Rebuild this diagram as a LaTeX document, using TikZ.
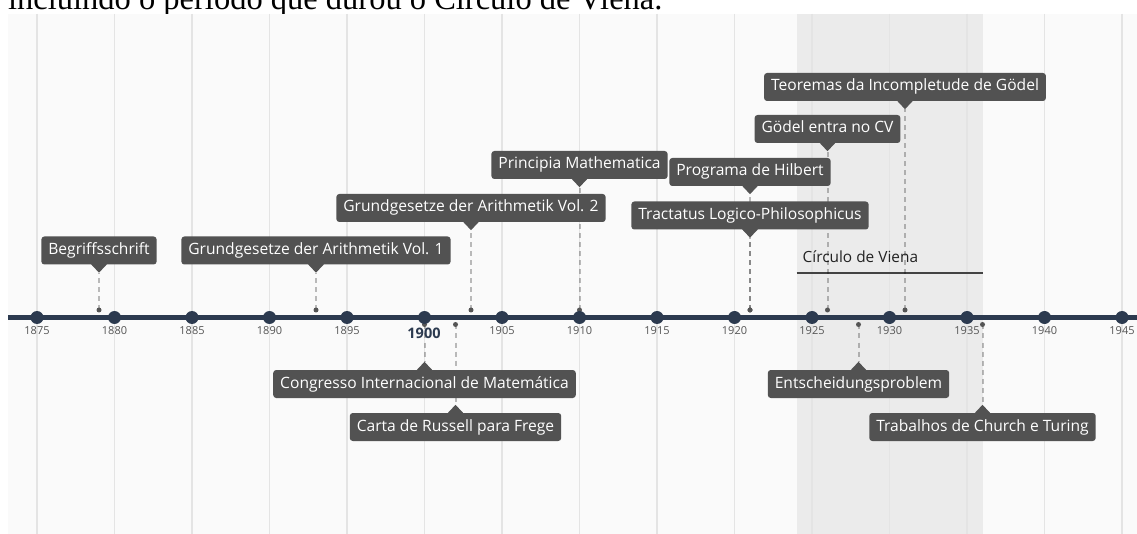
\documentclass[tikz,border=0pt]{standalone}
\usepackage{fontspec}
\setmainfont{Open Sans}
\newfontfamily\introfont{Liberation Serif}
\usetikzlibrary{calc}
\pgfdeclarelayer{bg}
\pgfdeclarelayer{lines}
\pgfsetlayers{bg,lines,main}

\definecolor{panelc}{HTML}{FAFAFA}
\definecolor{gridc}{HTML}{E4E4E4}
\definecolor{vcshade}{HTML}{EBEBEB}
\definecolor{axisc}{HTML}{2C3A4F}
\definecolor{boxc}{HTML}{525252}
\definecolor{tickc}{HTML}{555555}
\definecolor{dotc}{HTML}{555555}
\definecolor{vienc}{HTML}{222222}

\tikzset{
  evbox/.style={fill=boxc, text=white, rounded corners=3, inner xsep=7, inner ysep=0,
    minimum height=28, text height=11.5, text depth=3.5, font=\fontsize{15.6}{18}\selectfont},
  dashline/.style={draw=black, draw opacity=0.26, line width=2, dash pattern=on 5 off 4},
  ticklabel/.style={text=tickc, font=\fontsize{11}{13}\selectfont, inner sep=0},
  boldlabel/.style={text=axisc, font=\bfseries\fontsize{14.5}{17}\selectfont, inner sep=0},
  gridline/.style={draw=gridc, line width=1.3},
  axisline/.style={draw=axisc, line width=5.5},
}

\newcommand\EvUp[4]{%
  \pgfmathsetmacro\ex{37+(#2-1875)*15.5}
  \node[evbox] (#1) at (\ex,#3) {#4};
  \coordinate (#1-tip) at ($(#1.south)+(0,8)$);
  \coordinate (#1-dot) at (\ex,310);
  \fill[boxc] ($(#1.south)+(-8,-0.5)$) -- (#1-tip) -- ($(#1.south)+(8,-0.5)$) -- cycle;
  \begin{pgfonlayer}{lines}
    \draw[dashline] (#1-dot) -- (#1-tip);
    \fill[dotc] (#1-dot) circle (2.5);
  \end{pgfonlayer}
}
\newcommand\EvDn[4]{%
  \pgfmathsetmacro\ex{37+(#2-1875)*15.5}
  \node[evbox] (#1) at (\ex,#3) {#4};
  \coordinate (#1-tip) at ($(#1.north)+(0,-8)$);
  \coordinate (#1-dot) at (\ex,324.5);
  \fill[boxc] ($(#1.north)+(-8,0.5)$) -- (#1-tip) -- ($(#1.north)+(8,0.5)$) -- cycle;
  \begin{pgfonlayer}{lines}
    \draw[dashline] (#1-dot) -- (#1-tip);
    \fill[dotc] (#1-dot) circle (2.5);
  \end{pgfonlayer}
}

\begin{document}
\begin{tikzpicture}[x=1pt,y=-1pt]
\useasboundingbox (0,0) rectangle (1137,534);
\clip (0,0) rectangle (1137,534);
\begin{pgfonlayer}{bg}
  \fill[white] (0,0) rectangle (1137,534);
  \node[anchor=base west, inner sep=0, font=\introfont\fontsize{32.5}{36}\selectfont] (intro) at (8,9.5) {incluindo o período que durou o Círculo de Viena.};
  \fill[panelc] (8,14) rectangle (1137,534);
  \fill[vcshade] (796.5,14) rectangle (982.5,534);
  \foreach \yr in {1875,1880,...,1945} {
    \draw[gridline] ({37+(\yr-1875)*15.5},14) -- ++(0,520);
  }
  \coordinate (vs) at (796.5,273.5);
  \coordinate (ve) at (982.5,273.5);
  \draw[draw=vienc!85!white, line width=2] (vs) -- (ve);
  \node[anchor=base west, inner sep=0, text=vienc, font=\fontsize{15.4}{18}\selectfont] (vien) at (802.5,262.5) {Círculo de Viena};
\end{pgfonlayer}

% axis
\coordinate (axl) at (8,317.5);
\coordinate (axr) at (1137,317.5);
\draw[axisline] (axl) -- (axr);
\foreach \yr in {1875,1880,...,1945} {
  \fill[axisc] ({37+(\yr-1875)*15.5},317.5) circle (6.5);
}
\foreach \yr in {1875,1880,1885,1890,1895,1905,1910,1915,1920,1925,1930,1935,1940,1945} {
  \node[ticklabel] at ({37+(\yr-1875)*15.5},331) {\yr};
}
\node[boldlabel] (y1900) at (424,333) {1900};

% events above
\EvUp{beg}{1879}{250.5}{Begriffsschrift}
\EvUp{gg1}{1893}{250.5}{Grundgesetze der Arithmetik Vol. 1}
\EvUp{gg2}{1903}{208}{Grundgesetze der Arithmetik Vol. 2}
\EvUp{pm}{1910}{165}{Principia Mathematica}
\EvUp{hil}{1921}{172}{Programa de Hilbert}
\EvUp{trc}{1921}{215.5}{Tractatus Logico-Philosophicus}
\EvUp{gcv}{1926}{129}{Gödel entra no CV}
\EvUp{inc}{1931}{87}{Teoremas da Incompletude de Gödel}

% events below
\EvDn{cong}{1900}{384}{Congresso Internacional de Matemática}
\EvDn{russ}{1902}{427}{Carta de Russell para Frege}
\EvDn{ent}{1928}{384}{Entscheidungsproblem}
\EvDn{ct}{1936}{427}{Trabalhos de Church e Turing}
\end{tikzpicture}
\end{document}
